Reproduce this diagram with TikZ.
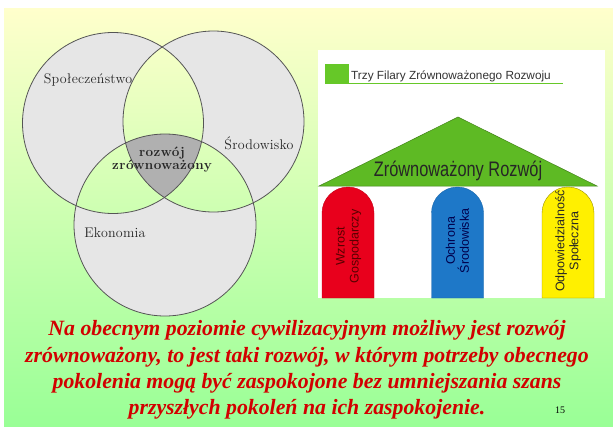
\documentclass[tikz,border=0pt]{standalone}
\usepackage{fontspec}
\newfontfamily\arialf{Liberation Sans}
\newfontfamily\timesf{Liberation Serif}
\newfontfamily\vennf[LetterSpace=1.5]{Latin Modern Roman}
\newfontfamily\vennbf[LetterSpace=3]{Latin Modern Roman}
\definecolor{bgtop}{RGB}{255,255,204}
\definecolor{bgbot}{RGB}{153,255,150}
\definecolor{vennA}{RGB}{230,230,230}
\definecolor{vennC}{RGB}{176,176,176}
\definecolor{vennL}{RGB}{85,85,85}
\definecolor{tgreen}{RGB}{102,200,40}
\definecolor{roofg}{RGB}{94,186,36}
\definecolor{pred}{RGB}{232,0,28}
\definecolor{pblue}{RGB}{30,120,200}
\definecolor{pyel}{RGB}{255,240,0}
\definecolor{tred}{RGB}{210,0,0}
\tikzset{
  vennline/.style={draw=vennL, line width=0.8pt},
  vennlabel/.style={font=\vennf\fontsize{14}{15}\selectfont, text=black!85, inner sep=0pt},
  vennbold/.style={font=\vennbf\bfseries\fontsize{13.5}{13}\selectfont, text=black!85, align=center, inner sep=0pt},
  pillar/.style={line width=0.4pt},
  pillartext/.style={rotate=90, align=center, font=\arialf\fontsize{12.5}{14}\selectfont, inner sep=0pt},
}
\begin{document}
\begin{tikzpicture}[x=1pt,y=-1pt]
\useasboundingbox (0,0) rectangle (613,426);
\fill[white] (0,0) rectangle (613,426);
\shade[top color=bgtop, bottom color=bgbot] (4,8) rectangle (613,426);
% Venn
\coordinate (L) at (113,123);
\coordinate (R) at (213.5,121.5);
\coordinate (B) at (165,225);
\fill[vennA, even odd rule] (L) circle[radius=90.5] (R) circle[radius=90.5] (B) circle[radius=91];
\begin{scope}
  \clip (L) circle[radius=90.5];
  \clip (R) circle[radius=90.5];
  \fill[vennC] (B) circle[radius=91];
\end{scope}
\draw[vennline] (L) circle[radius=90.5];
\draw[vennline] (R) circle[radius=90.5];
\draw[vennline] (B) circle[radius=91];
\node[vennlabel] (spol) at (88,80) {Społeczeństwo};
\node[vennlabel] (srod) at (259,143) {Środowisko};
\node[vennlabel] (eko) at (115,233) {Ekonomia};
\node[vennbold] (rz) at (162,159.5) {rozwój\\zrównoważony};
% right panel
\fill[white] (318,50) rectangle (605,298);
\fill[tgreen] (325,64) rectangle (349,83);
\draw[tgreen, line width=1.5pt] (325,83.5) -- (563,83.5);
\node[anchor=base west, inner sep=0pt, font=\arialf\fontsize{11.8}{12}\selectfont, text=black!80] (title) at (351,79) {Trzy Filary Zrównoważonego Rozwoju};
\filldraw[fill=roofg, draw=roofg!70!black, line width=0.5pt] (319,186) -- (458,117) -- (597,186) -- cycle;
\node[font=\arialf\fontsize{21}{21}\selectfont, text=black!85] (roof) at (458,171) {\scalebox{0.78}[1]{Zrównoważony Rozwój}};
\path[pillar, fill=pred, draw=pred!85!black] (322,298) -- (322,213) arc[start angle=180, end angle=360, radius=26] -- (374,298) -- cycle;
\path[pillar, fill=pblue, draw=pblue!85!black] (431.5,298) -- (431.5,213) arc[start angle=180, end angle=360, radius=26] -- (483.5,298) -- cycle;
\path[pillar, fill=pyel, draw=pyel!60!black] (542,298) -- (542,213) arc[start angle=180, end angle=360, radius=26] -- (594,298) -- cycle;
\node[pillartext, text=red!35!black] (p1) at (348.5,246.5) {Wzrost\\Gospodarczy};
\node[pillartext, text=blue!30!black] (p2) at (457.5,241) {Ochrona\\Środowiska};
\node[pillartext, text=black!85] (p3) at (568,241) {Odpowiedzialność\\Społeczna};
% bottom text
\node[font=\timesf\bfseries\itshape\fontsize{21.8}{26.3}\selectfont, text=tred, align=center] (body) at (307,370) {Na obecnym poziomie cywilizacyjnym możliwy jest rozwój\\zrównoważony, to jest taki rozwój, w którym potrzeby obecnego\\pokolenia mogą być zaspokojone bez umniejszania szans\\przyszłych pokoleń na ich zaspokojenie.};
\node[font=\timesf\fontsize{10}{10}\selectfont] (pg) at (560,410) {15};
\end{tikzpicture}
\end{document}
